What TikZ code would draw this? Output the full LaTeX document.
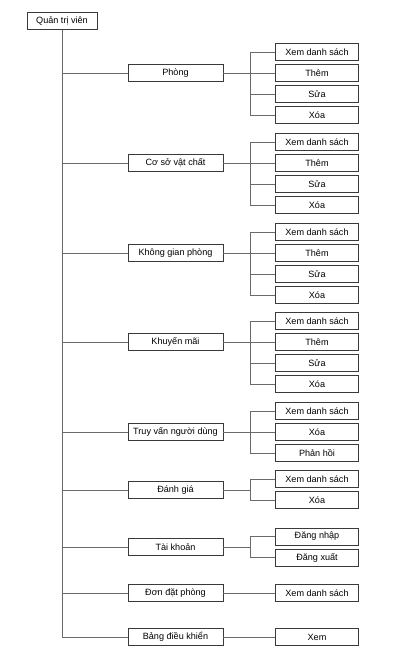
\documentclass[tikz,border=0pt]{standalone}
\usepackage{fontspec}
\setmainfont{Liberation Sans}

\begin{document}
\begin{tikzpicture}[x=1pt,y=-1pt,
  box/.style={draw=boxGray, line width=0.8pt, fill=white, minimum height=17pt,
    inner sep=0pt, font=\fontsize{9.1}{11}\selectfont},
  rootbox/.style={box, minimum width=70pt},
  midbox/.style={box, minimum width=95pt},
  leafbox/.style={box, minimum width=83pt},
  link/.style={draw=lineGray, line width=0.8pt}]

% Colori
\definecolor{boxGray}{HTML}{3A3A3A}
\definecolor{lineGray}{HTML}{6A6A6A}

% Cornice
\useasboundingbox (0,0) rectangle (406,663);

% Radice
\node[rootbox] (root) at (62,21) {Quản trị viên};

% Linea dei rami verso le foglie
\coordinate (k) at (250,0);

% Nodi di mezzo
\node[midbox] (m1) at (175.5,73)  {Phòng};
\node[midbox] (m2) at (175.5,163) {Cơ sở vật chất};
\node[midbox] (m3) at (175.5,253) {Không gian phòng};
\node[midbox] (m4) at (175.5,342) {Khuyến mãi};
\node[midbox] (m5) at (175.5,432) {Truy vấn người dùng};
\node[midbox] (m6) at (175.5,490) {Đánh giá};
\node[midbox] (m7) at (175.5,547) {Tài khoản};
\node[midbox] (m8) at (175.5,593) {Đơn đặt phòng};
\node[midbox] (m9) at (175.5,637) {Bảng điều khiển};

% Tronco
\draw[link] (root.south) |- (m9.west);
\foreach \m in {m1,m2,m3,m4,m5,m6,m7,m8}
  \draw[link] (root.south |- \m.west) -- (\m.west);

% Phòng
\node[leafbox] (a1) at (317,52)  {Xem danh sách};
\node[leafbox] (a2) at (317,73)  {Thêm};
\node[leafbox] (a3) at (317,94)  {Sửa};
\node[leafbox] (a4) at (317,115) {Xóa};
\draw[link] (m1.east) -- (m1.east -| k);
\draw[link] (a1.west) -| (k |- a4.west) -- (a4.west);
\draw[link] (k |- a2.west) -- (a2.west);
\draw[link] (k |- a3.west) -- (a3.west);

% Cơ sở vật chất
\node[leafbox] (b1) at (317,142) {Xem danh sách};
\node[leafbox] (b2) at (317,163) {Thêm};
\node[leafbox] (b3) at (317,184) {Sửa};
\node[leafbox] (b4) at (317,205) {Xóa};
\draw[link] (m2.east) -- (m2.east -| k);
\draw[link] (b1.west) -| (k |- b4.west) -- (b4.west);
\draw[link] (k |- b2.west) -- (b2.west);
\draw[link] (k |- b3.west) -- (b3.west);

% Không gian phòng
\node[leafbox] (c1) at (317,232) {Xem danh sách};
\node[leafbox] (c2) at (317,253) {Thêm};
\node[leafbox] (c3) at (317,274) {Sửa};
\node[leafbox] (c4) at (317,295) {Xóa};
\draw[link] (m3.east) -- (m3.east -| k);
\draw[link] (c1.west) -| (k |- c4.west) -- (c4.west);
\draw[link] (k |- c2.west) -- (c2.west);
\draw[link] (k |- c3.west) -- (c3.west);

% Khuyến mãi
\node[leafbox] (d1) at (317,321) {Xem danh sách};
\node[leafbox] (d2) at (317,342) {Thêm};
\node[leafbox] (d3) at (317,363) {Sửa};
\node[leafbox] (d4) at (317,384) {Xóa};
\draw[link] (m4.east) -- (m4.east -| k);
\draw[link] (d1.west) -| (k |- d4.west) -- (d4.west);
\draw[link] (k |- d2.west) -- (d2.west);
\draw[link] (k |- d3.west) -- (d3.west);

% Truy vấn người dùng
\node[leafbox] (e1) at (317,411) {Xem danh sách};
\node[leafbox] (e2) at (317,432) {Xóa};
\node[leafbox] (e3) at (317,453) {Phản hồi};
\draw[link] (m5.east) -- (m5.east -| k);
\draw[link] (e1.west) -| (k |- e3.west) -- (e3.west);
\draw[link] (k |- e2.west) -- (e2.west);

% Đánh giá
\node[leafbox] (f1) at (317,479) {Xem danh sách};
\node[leafbox] (f2) at (317,500) {Xóa};
\draw[link] (m6.east) -- (m6.east -| k);
\draw[link] (f1.west) -| (k |- f2.west) -- (f2.west);

% Tài khoản
\node[leafbox] (g1) at (317,536.5) {Đăng nhập};
\node[leafbox] (g2) at (317,557.5) {Đăng xuất};
\draw[link] (m7.east) -- (m7.east -| k);
\draw[link] (g1.west) -| (k |- g2.west) -- (g2.west);

% Đơn đặt phòng
\node[leafbox] (h1) at (317,593) {Xem danh sách};
\draw[link] (m8.east) -- (h1.west);

% Bảng điều khiển
\node[leafbox] (i1) at (317,637) {Xem};
\draw[link] (m9.east) -- (i1.west);

\end{tikzpicture}
\end{document}
